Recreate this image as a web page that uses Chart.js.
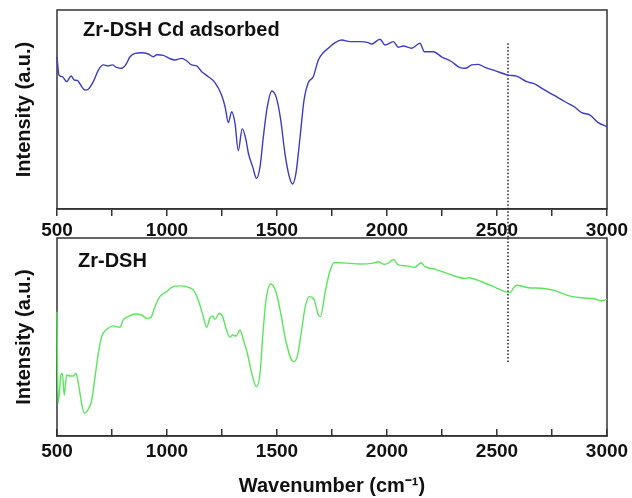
<!DOCTYPE html>
<html>
<head>
<meta charset="utf-8">
<script src="https://cdn.jsdelivr.net/npm/chart.js@4.4.0/dist/chart.umd.min.js"></script>
<style>
  html, body { margin: 0; padding: 0; background: #fff; }
  #wrap { position: relative; width: 632px; height: 498px; overflow: hidden; }
  #wrap canvas { position: absolute; left: 0; }
  #chart-top { top: 0; }
  #chart-bottom { top: 225px; }
</style>
</head>
<body>
<div id="wrap">
  <canvas id="chart-top" width="632" height="245"></canvas>
  <canvas id="chart-bottom" width="632" height="273"></canvas>
</div>
<script>
// FTIR spectra, Zr-DSH before/after Cd adsorption (intensity in arbitrary units)

const markerWavenumber = 2550;

const cdWavenumber = [500, 509, 524, 544, 564, 579, 594, 605, 627, 642, 665, 688, 710, 733, 751, 771, 794, 812, 832, 855,
  885, 915, 938, 953, 983, 1014, 1036, 1067, 1089, 1112, 1135, 1158, 1188, 1218, 1248, 1264, 1279, 1294, 1309, 1324,
  1342, 1359, 1370, 1389, 1407, 1423, 1438, 1456, 1477, 1498, 1517, 1536, 1556, 1571, 1586, 1605, 1623, 1642, 1665, 1688,
  1710, 1733, 1764, 1794, 1832, 1877, 1915, 1930, 1968, 1991, 2029, 2051, 2074, 2112, 2150, 2170, 2211, 2248, 2294, 2332,
  2355, 2385, 2415, 2445, 2491, 2551, 2589, 2635, 2673, 2710, 2756, 2809, 2851, 2885, 2923, 2960, 3000];
const cdIntensity = [76.4, 67.3, 66.5, 64.0, 66.8, 64.8, 64.5, 62.8, 59.8, 60.2, 64.0, 69.8, 72.4, 71.9, 72.4, 71.2, 70.7, 72.4, 76.5, 78.2,
  78.5, 77.9, 76.5, 77.5, 77.2, 75.5, 74.9, 75.7, 74.5, 72.4, 71.9, 69.0, 66.5, 63.5, 57.3, 51.4, 43.4, 48.9, 43.1, 29.3,
  40.4, 34.7, 28.0, 21.3, 15.4, 21.3, 36.3, 51.4, 59.3, 55.6, 44.7, 28.0, 16.2, 12.6, 17.9, 36.3, 54.8, 63.5, 66.5, 74.9,
  78.5, 80.8, 83.6, 84.9, 84.1, 84.1, 83.6, 82.9, 85.3, 82.4, 84.1, 81.3, 81.9, 80.8, 83.3, 79.0, 79.0, 76.5, 74.0, 71.0,
  70.7, 72.4, 72.7, 71.2, 69.5, 67.3, 66.8, 64.0, 62.8, 60.2, 57.3, 53.9, 51.4, 48.4, 47.2, 43.4, 41.4];

const dshWavenumber = [500, 505, 518, 524, 533, 544, 559, 574, 586, 597, 612, 624, 642, 658, 673, 688, 703, 726, 756, 786,
  801, 824, 855, 885, 908, 927, 945, 968, 998, 1021, 1059, 1097, 1120, 1142, 1165, 1180, 1195, 1207, 1218, 1238,
  1253, 1268, 1286, 1298, 1314, 1332, 1347, 1365, 1385, 1407, 1423, 1435, 1450, 1471, 1495, 1517, 1541, 1574, 1592, 1612,
  1627, 1647, 1668, 1688, 1698, 1718, 1738, 1759, 1786, 1832, 1877, 1930, 1961, 1988, 2009, 2029, 2051, 2089, 2127, 2155,
  2173, 2218, 2264, 2324, 2355, 2370, 2430, 2491, 2536, 2559, 2574, 2589, 2642, 2703, 2764, 2824, 2885, 2945, 2976, 3000];
const dshIntensity = [62.8, 16.5, 30.8, 31.7, 20.7, 30.8, 30.3, 30.3, 31.7, 26.6, 16.5, 11.5, 13.5, 18.2, 29.9, 41.8, 50.2, 53.9, 55.6, 54.9,
  58.6, 60.3, 61.6, 61.1, 59.4, 59.9, 65.3, 70.4, 72.9, 75.1, 75.8, 75.1, 73.7, 68.7, 60.3, 54.9, 59.4, 60.6, 58.9, 62.0,
  60.3, 54.4, 49.8, 51.0, 50.5, 53.5, 48.5, 41.8, 31.7, 24.9, 31.7, 50.2, 68.7, 76.8, 72.9, 62.0, 47.6, 37.5, 40.1, 53.5,
  64.5, 70.4, 69.0, 61.1, 60.3, 72.1, 82.2, 87.5, 87.5, 87.2, 86.9, 87.2, 88.0, 86.7, 87.5, 89.2, 86.4, 85.9, 85.2, 87.5,
  85.5, 84.3, 82.5, 80.2, 79.6, 79.9, 77.9, 75.1, 72.9, 72.4, 74.6, 76.1, 74.9, 74.6, 73.4, 70.9, 69.8, 69.2, 68.3, 69.0];

// dotted marker at 2550 cm-1 runs across both panels (y ends in each panel's units)
const markerTopY = [83.3, -14.6];
const markerBottomY = [100, 36.9];

const FONT = '"Liberation Sans", Arial, Helvetica, sans-serif';
const INK = '#111';
const AXIS = '#333';

Chart.defaults.font.family = FONT;
Chart.defaults.color = INK;

function toPoints(xs, ys) {
  return xs.map((x, i) => ({ x: x, y: ys[i] }));
}

// box around the plot area (under the curves) + panel label
const framePlugin = {
  id: 'frame',
  beforeDatasetsDraw(chart) {
    const ctx = chart.ctx;
    const a = chart.chartArea;
    ctx.save();
    ctx.strokeStyle = AXIS;
    ctx.lineWidth = 1.5;
    ctx.strokeRect(a.left, a.top, a.right - a.left, a.bottom - a.top);
    ctx.restore();
  },
  afterDraw(chart, args, opts) {
    if (!opts.label) return;
    const ctx = chart.ctx;
    const a = chart.chartArea;
    ctx.save();
    ctx.fillStyle = INK;
    ctx.font = 'bold 20px ' + FONT;
    ctx.textBaseline = 'alphabetic';
    ctx.textAlign = 'left';
    ctx.fillText(opts.label, a.left + opts.dx, a.top + opts.dy);
    ctx.restore();
  }
};

function makePanel(canvasId, o) {
  const ctx = document.getElementById(canvasId).getContext('2d');
  return new Chart(ctx, {
    type: 'line',
    data: {
      datasets: [{
        data: toPoints(o.xs, o.ys),
        borderColor: o.color,
        borderWidth: 1.4,
        pointRadius: 0,
        cubicInterpolationMode: 'monotone',
        clip: false,
        fill: false
      }, {
        data: toPoints([markerWavenumber, markerWavenumber], o.marker),
        borderColor: '#222',
        borderWidth: 1.5,
        borderDash: [1.5, 2],
        pointRadius: 0,
        tension: 0,
        clip: false,
        fill: false
      }]
    },
    options: {
      responsive: false,
      animation: false,
      layout: { padding: { left: 0, right: 25, top: o.padTop, bottom: 0 } },
      plugins: {
        legend: { display: false },
        tooltip: { enabled: false },
        frame: { label: o.label, dx: o.labelDx, dy: o.labelDy }
      },
      scales: {
        x: {
          type: 'linear',
          min: 500,
          max: 3000,
          afterFit(s) {
            s.height = o.xHeight;
            s.paddingLeft = 0;
            s.paddingRight = 0;
          },
          grid: { drawOnChartArea: false, drawTicks: true, tickLength: o.tickLength, color: AXIS, lineWidth: 1.5 },
          border: { display: true, color: AXIS, width: 1.5 },
          ticks: {
            stepSize: 250,
            autoSkip: false,
            maxRotation: 0,
            padding: o.tickPad,
            color: INK,
            font: { size: 19, weight: 'bold' },
            callback: v => (v % 500 === 0 ? String(v) : '')
          },
          title: o.xTitle ? {
            display: true,
            text: o.xTitle,
            color: INK,
            font: { size: 20, weight: 'bold' },
            padding: { top: 0, bottom: 0 }
          } : { display: false }
        },
        y: {
          min: 0,
          max: 100,
          afterFit(s) { s.width = 57; },
          grid: { display: false },
          border: { display: false },
          ticks: { display: false },
          title: {
            display: true,
            text: 'Intensity (a.u.)',
            color: INK,
            font: { size: 20, weight: 'bold' },
            padding: { top: 12, bottom: 0 }
          }
        }
      }
    },
    plugins: [framePlugin]
  });
}

makePanel('chart-top', {
  xs: cdWavenumber, ys: cdIntensity, marker: markerTopY,
  color: '#3c3cc8', label: 'Zr-DSH Cd adsorbed', labelDx: 26, labelDy: 26,
  padTop: 10, xHeight: 36, tickLength: 7, tickPad: 3
});

makePanel('chart-bottom', {
  xs: dshWavenumber, ys: dshIntensity, marker: markerBottomY,
  color: '#5ae65a', label: 'Zr-DSH', labelDx: 21, labelDy: 29,
  padTop: 13, xHeight: 62, tickLength: -7, tickPad: 11,
  xTitle: 'Wavenumber (cm\u207B\u00B9)'
});
</script>
</body>
</html>
